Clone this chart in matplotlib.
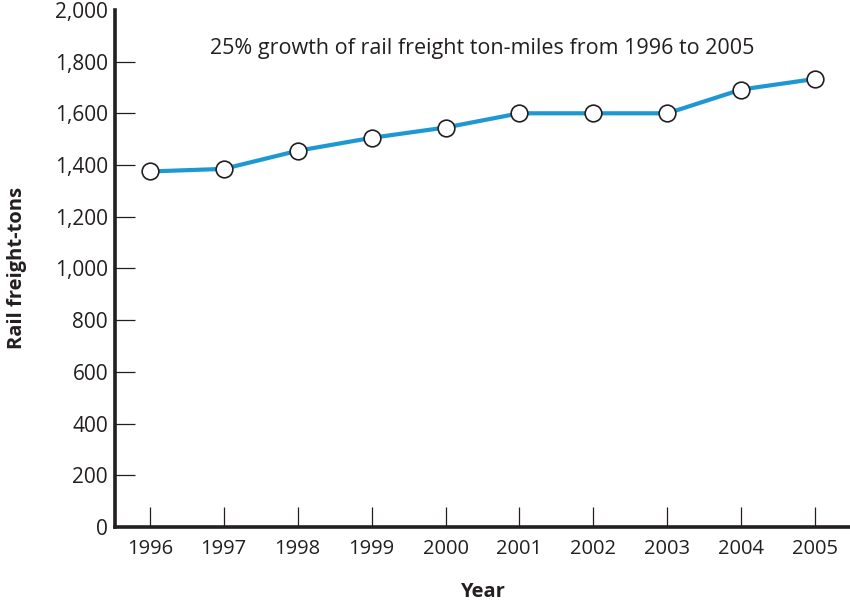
import matplotlib
matplotlib.use("Agg")
import matplotlib.pyplot as plt

# ── Données ──────────────────────────────────────────────────────────────────
years = [1996, 1997, 1998, 1999, 2000, 2001, 2002, 2003, 2004, 2005]
freight_tons = [1375, 1385, 1455, 1505, 1545, 1600, 1600, 1600, 1692, 1733]
y_ticks = [0, 200, 400, 600, 800, 1000, 1200, 1400, 1600, 1800, 2000]
note = "25% growth of rail freight ton-miles from 1996 to 2005"

TXT = "#231f20"
BLUE = "#1e98d3"

plt.rcParams["font.family"] = ["Open Sans", "DejaVu Sans"]

fig = plt.figure(figsize=(8.5, 6.02), dpi=100)
ax = fig.add_axes([0.1353, 0.1246, 0.8647, 0.859])

ax.plot(years, freight_tons, color=BLUE, linewidth=3.0, zorder=2,
        marker="o", markersize=12, markerfacecolor="white",
        markeredgecolor=TXT, markeredgewidth=1.2)

ax.set_xlim(1995.53, 2005.47)
ax.set_ylim(0, 2000)
ax.set_xticks(years)
ax.set_yticks(y_ticks)
ax.set_yticklabels([f"{v:,}" for v in y_ticks])

for side in ["top", "right"]:
    ax.spines[side].set_visible(False)
for side in ["left", "bottom"]:
    ax.spines[side].set_linewidth(2.6)
    ax.spines[side].set_color(TXT)

ax.tick_params(axis="both", direction="in", length=14.5, width=0.9,
               color=TXT, labelcolor=TXT)
ax.tick_params(axis="y", pad=5, labelsize=15)
ax.tick_params(axis="x", pad=9, labelsize=14.5)
ax.yaxis.get_major_ticks()[-1].tick1line.set_visible(False)
ax.yaxis.get_major_ticks()[0].tick1line.set_visible(False)

ax.set_ylabel("Rail freight-tons", fontsize=14.5, fontweight="bold", color=TXT, labelpad=20)
ax.set_xlabel("Year", fontsize=14.5, fontweight="bold", color=TXT, labelpad=16)

ax.text(0.5, 0.925, note, transform=ax.transAxes, ha="center", va="center",
        fontsize=15.5, color=TXT)

fig.savefig("out.png", dpi=100)
